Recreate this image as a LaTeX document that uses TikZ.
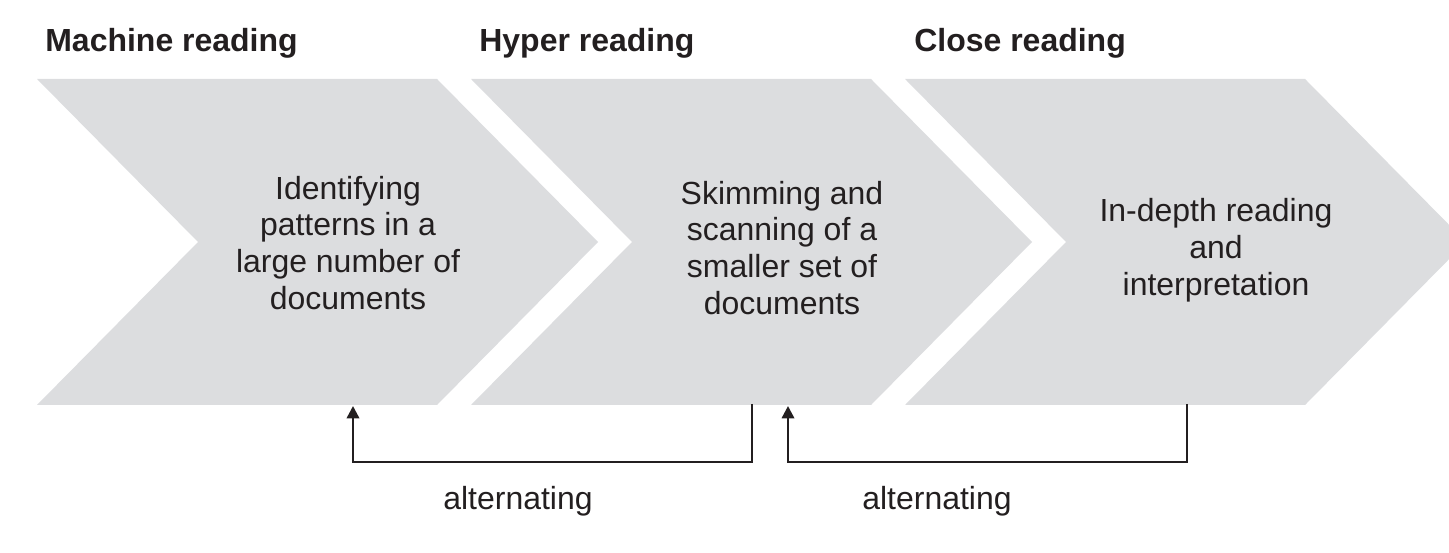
\documentclass[tikz,border=0pt]{standalone}
\usepackage{fontspec}
\setmainfont{Liberation Sans}
\usepackage{tikz}
\usetikzlibrary{arrows.meta,positioning,calc}
\definecolor{chevgray}{HTML}{DCDDDF}
\definecolor{inkdark}{HTML}{231F20}

\begin{document}
\begin{tikzpicture}[x=0.02cm,y=-0.02cm,
  chev/.style={fill=chevgray},
  ttl/.style={anchor=base west, inner sep=0pt,
              font=\fontsize{18.2}{21}\selectfont\bfseries\color{inkdark}},
  body/.style={align=center, inner sep=0pt,
               font=\fontsize{18.2}{21}\selectfont\color{inkdark}},
  arr/.style={-{Triangle[length=7pt,width=7pt]},draw=inkdark,line width=1.4pt}
]
  \useasboundingbox (0,0) rectangle (1449,553);
  \clip (0,0) rectangle (1449,553);

  % the three chevrons
  \foreach \x in {37,471,905}
    \fill[chev] (\x,79) -- ++(400,0) -- ++(161,163) -- ++(-161,163)
      -- ++(-400,0) -- ++(161,-163) -- cycle;

  % titles
  \node[ttl] (mt) at (45,52)  {Machine reading};
  \node[ttl] (ht) at (479,52) {Hyper reading};
  \node[ttl] (ct) at (914,52) {Close reading};

  % chevron texts
  \node[body] (m) at (348,243) {Identifying\\patterns in a\\large number of\\documents};
  \node[body] (h) at (782,248) {Skimming and\\scanning of a\\smaller set of\\documents};
  \node[body] (c) at (1216,250) {In-depth reading\\and\\interpretation};

  % loop ends
  \coordinate (hb) at (752,404);
  \coordinate (mb) at (353,406);
  \coordinate (cb) at (1187,404);
  \coordinate (hb2) at (788,406);

  \draw[arr] (hb) -- ++(0,58) -| (mb);
  \draw[arr] (cb) -- ++(0,58) -| (hb2);

  \node[body] (alt1) at (518,501) {alternating};
  \node[body] (alt2) at (937,501) {alternating};
\end{tikzpicture}
\end{document}
